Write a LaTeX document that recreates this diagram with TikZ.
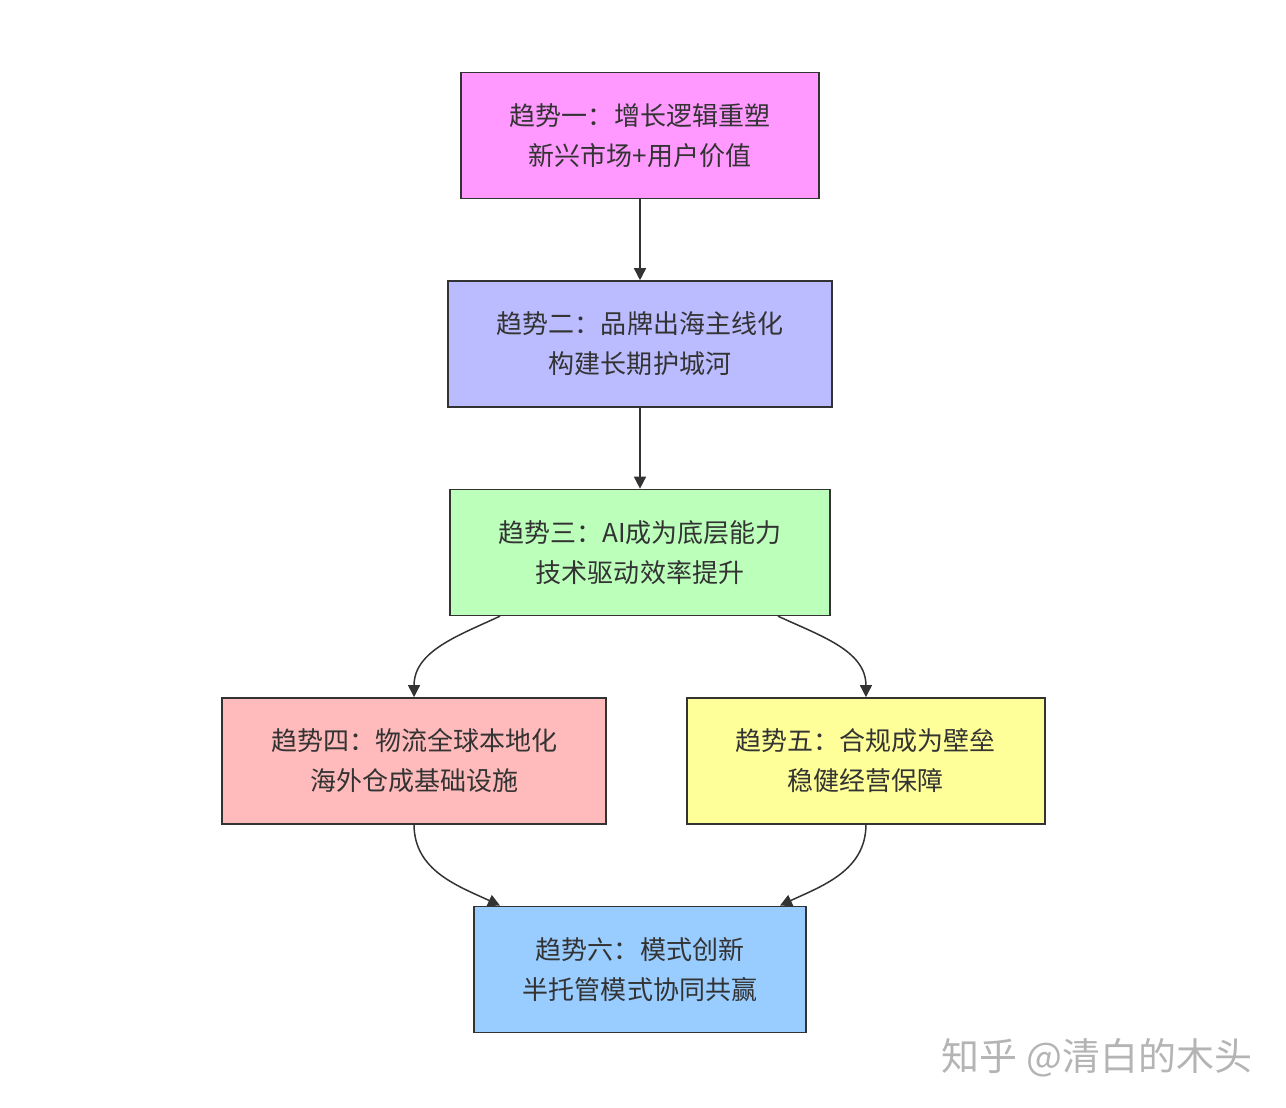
\documentclass[tikz,border=0pt]{standalone}
\usepackage{fontspec}
\newfontfamily\cjk{Noto Sans CJK SC}
\usepackage{xcolor}
\usepackage{tikz}
\usetikzlibrary{arrows.meta,positioning}
\definecolor{trendInk}{HTML}{333333}
\definecolor{trendPink}{HTML}{FF99FF}
\definecolor{trendViolet}{HTML}{BBBBFF}
\definecolor{trendGreen}{HTML}{BBFFBB}
\definecolor{trendRose}{HTML}{FFBBBB}
\definecolor{trendYellow}{HTML}{FFFF99}
\definecolor{trendSky}{HTML}{99CCFF}
\definecolor{trendMark}{HTML}{B4B4B4}

\begin{document}
\begin{tikzpicture}[
  x=0.02cm,y=-0.02cm,
  font=\cjk\fontsize{14.8}{22.8}\selectfont,
  trend/.style={draw=trendInk,fill=#1,line width=0.85pt,minimum height=2.52cm,align=center,text=trendInk,inner sep=0pt},
  arr/.style={-{Triangle[length=0.24cm,width=0.24cm]},line width=0.85pt,trendInk}
]
  \useasboundingbox[fill=white] (0,0) rectangle (1286,1108);
  \node[trend=trendPink,minimum width=7.16cm] (one) at (640,135.5) {趋势一：增长逻辑重塑\\新兴市场+用户价值};
  \node[trend=trendViolet,minimum width=7.68cm,below=1.62cm of one] (two) {趋势二：品牌出海主线化\\构建长期护城河};
  \node[trend=trendGreen,minimum width=7.6cm,below=1.62cm of two] (three) {趋势三：AI成为底层能力\\技术驱动效率提升};
  \node[trend=trendRose,minimum width=7.68cm,below=1.62cm of three,xshift=-4.52cm] (four) {趋势四：物流全球本地化\\海外仓成基础设施};
  \node[trend=trendYellow,minimum width=7.16cm,below=1.62cm of three,xshift=4.52cm] (five) {趋势五：合规成为壁垒\\稳健经营保障};
  \node[trend=trendSky,minimum width=6.64cm,below=1.62cm of four,xshift=4.52cm] (six) {趋势六：模式创新\\半托管模式协同共赢};
  \draw[arr] (one) -- (two);
  \draw[arr] (two) -- (three);
  \draw[arr] ([xshift=-2.8cm]three.south) to[out=-155,in=90] (four.north);
  \draw[arr] ([xshift=2.76cm]three.south) to[out=-25,in=90] (five.north);
  \draw[arr] (four.south) to[out=-90,in=155] ([xshift=-2.8cm]six.north);
  \draw[arr] (five.south) to[out=-90,in=25] ([xshift=2.8cm]six.north);
  % watermark
  \node[text=trendMark,font=\cjk\fontsize{21.6}{26}\selectfont] (mark) at (1097,1058) {知乎\ @清白的木头};
\end{tikzpicture}
\end{document}
